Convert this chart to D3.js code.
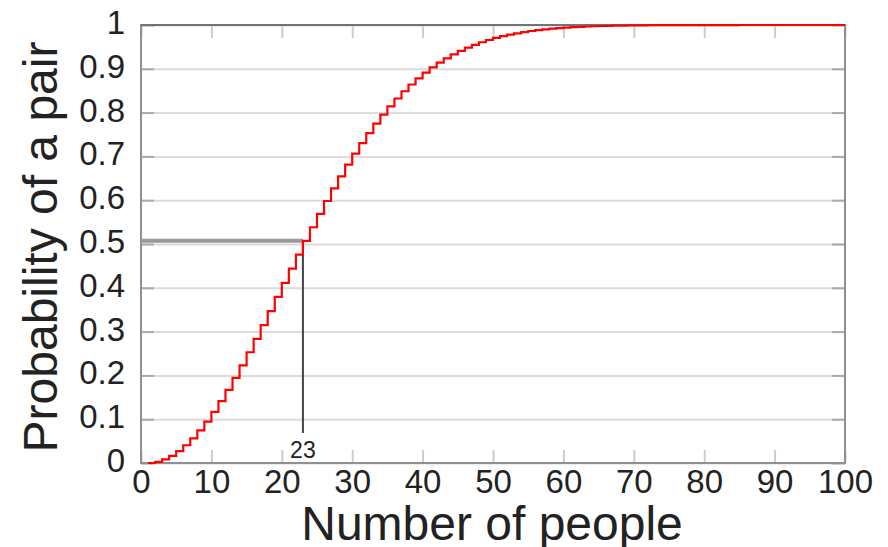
<!DOCTYPE html>
<html lang="en">
<head>
    <meta charset="UTF-8">
    <title>Birthday problem</title>
    <script src="https://cdnjs.cloudflare.com/ajax/libs/d3/7.8.5/d3.min.js"></script>
    <style>
        body { margin: 0; background: #fff; }
        text { font-family: "Liberation Sans", Arial, sans-serif; fill: #222; }
    </style>
</head>
<body>
<script>
// number of people in the room
var people = d3.range(1, 101)
// probability of at least one shared birthday
var prob = [
    0.0000, 0.0027, 0.0082, 0.0164, 0.0271, 0.0405, 0.0562, 0.0743, 0.0946, 0.1169,
    0.1411, 0.1670, 0.1944, 0.2231, 0.2529, 0.2836, 0.3150, 0.3469, 0.3791, 0.4114,
    0.4437, 0.4757, 0.5073, 0.5383, 0.5687, 0.5982, 0.6269, 0.6545, 0.6810, 0.7063,
    0.7305, 0.7533, 0.7750, 0.7953, 0.8144, 0.8322, 0.8487, 0.8641, 0.8782, 0.8912,
    0.9032, 0.9140, 0.9239, 0.9329, 0.9410, 0.9483, 0.9548, 0.9606, 0.9658, 0.9704,
    0.9744, 0.9780, 0.9811, 0.9839, 0.9863, 0.9883, 0.9901, 0.9917, 0.9930, 0.9941,
    0.9951, 0.9959, 0.9966, 0.9972, 0.9977, 0.9981, 0.9984, 0.9987, 0.9990, 0.9992,
    0.9993, 0.9995, 0.9996, 0.9997, 0.9997, 0.9998, 0.9998, 0.9999, 0.9999, 0.9999,
    0.9999, 0.9999, 0.9999, 0.9999, 1.0000, 1.0000, 1.0000, 1.0000, 1.0000, 1.0000,
    1.0000, 1.0000, 1.0000, 1.0000, 1.0000, 1.0000, 1.0000, 1.0000, 1.0000, 1.0000
]
var xTicks = [0, 10, 20, 30, 40, 50, 60, 70, 80, 90, 100]
var xTickLabels = ["0", "10", "20", "30", "40", "50", "60", "70", "80", "90", "100"]
var yTicks = [0, 0.1, 0.2, 0.3, 0.4, 0.5, 0.6, 0.7, 0.8, 0.9, 1]
var yTickLabels = ["0", "0.1", "0.2", "0.3", "0.4", "0.5", "0.6", "0.7", "0.8", "0.9", "1"]
var markN = 23 // first n where the odds pass one half

var width = 888
var height = 547
var margin = { top: 25, right: 43, bottom: 84, left: 141 }
var w = width - margin.left - margin.right // 704
var h = height - margin.top - margin.bottom // 438

var svg = d3.select("body").append("svg")
    .attr("width", width)
    .attr("height", height)

var g = svg.append("g")
    .attr("transform", "translate(" + margin.left + "," + margin.top + ")")

var x = d3.scaleLinear().domain([0, 100]).range([0, w])
var y = d3.scaleLinear().domain([0, 1]).range([h, 0])

// horizontal grid
g.append("g")
    .call(d3.axisLeft(y).tickValues(yTicks).tickSize(-w).tickFormat(""))
    .call(a => a.select(".domain").remove())
    .call(a => a.selectAll("line").attr("stroke", "#dcdcdc").attr("stroke-width", 2))

// short inner ticks, left and right
g.append("g")
    .call(d3.axisRight(y).tickValues(yTicks).tickSize(13).tickFormat(""))
    .call(a => a.select(".domain").remove())
    .call(a => a.selectAll("line").attr("stroke", "#aaa").attr("stroke-width", 2))
g.append("g")
    .attr("transform", "translate(" + w + ",0)")
    .call(d3.axisLeft(y).tickValues(yTicks).tickSize(13).tickFormat(""))
    .call(a => a.select(".domain").remove())
    .call(a => a.selectAll("line").attr("stroke", "#aaa").attr("stroke-width", 2))

// short inner ticks, bottom and top
g.append("g")
    .attr("transform", "translate(0," + h + ")")
    .call(d3.axisTop(x).tickValues(xTicks).tickSize(13).tickFormat(""))
    .call(a => a.select(".domain").remove())
    .call(a => a.selectAll("line").attr("stroke", "#ccc").attr("stroke-width", 2))
g.append("g")
    .call(d3.axisBottom(x).tickValues(xTicks).tickSize(13).tickFormat(""))
    .call(a => a.select(".domain").remove())
    .call(a => a.selectAll("line").attr("stroke", "#ccc").attr("stroke-width", 2))

// tick labels
g.append("g")
    .call(d3.axisLeft(y).tickValues(yTicks).tickSize(0).tickPadding(16)
        .tickFormat((d, i) => yTickLabels[i]))
    .call(a => a.select(".domain").remove())
    .call(a => a.selectAll("text").attr("font-size", 33).attr("dy", "0.26em")
        .style("font-family", "Liberation Sans, Arial, sans-serif").attr("fill", "#222"))

g.append("g")
    .attr("transform", "translate(0," + h + ")")
    .call(d3.axisBottom(x).tickValues(xTicks).tickSize(0).tickPadding(7)
        .tickFormat((d, i) => xTickLabels[i]))
    .call(a => a.select(".domain").remove())
    .call(a => a.selectAll("text").attr("font-size", 33)
        .style("font-family", "Liberation Sans, Arial, sans-serif").attr("fill", "#222"))

// frame
g.append("rect")
    .attr("width", w).attr("height", h)
    .attr("fill", "none").attr("stroke", "#909090").attr("stroke-width", 2)
g.append("line")
    .attr("x1", 0).attr("x2", w).attr("y1", 0).attr("y2", 0)
    .attr("stroke", "#737373").attr("stroke-width", 2)

// marker for n = 23
var pMark = prob[people.indexOf(markN)]
g.append("line")
    .attr("x1", x(0)).attr("x2", x(markN))
    .attr("y1", y(pMark)).attr("y2", y(pMark))
    .attr("stroke", "#999").attr("stroke-width", 4)
g.append("line")
    .attr("x1", x(markN)).attr("x2", x(markN))
    .attr("y1", y(pMark)).attr("y2", h - 30)
    .attr("stroke", "#444").attr("stroke-width", 2)
g.append("text")
    .attr("x", x(markN)).attr("y", h - 5)
    .attr("text-anchor", "middle")
    .attr("font-size", 23).attr("fill", "#333")
    .text(markN)

// the step curve
var line = d3.line()
    .x((d, i) => x(people[i]))
    .y(d => y(d))
    .curve(d3.curveStepAfter)

g.append("path")
    .datum(prob)
    .attr("fill", "none")
    .attr("stroke", "#ff0000")
    .attr("stroke-width", 2.2)
    .attr("d", line)

// axis titles
svg.append("text")
    .attr("x", margin.left + w / 2 - 1)
    .attr("y", 540)
    .attr("text-anchor", "middle")
    .attr("font-size", 48)
    .text("Number of people")

svg.append("text")
    .attr("transform", "translate(57," + (margin.top + h / 2 + 3) + ") rotate(-90)")
    .attr("text-anchor", "middle")
    .attr("font-size", 48)
    .text("Probability of a pair")
</script>
</body>
</html>
